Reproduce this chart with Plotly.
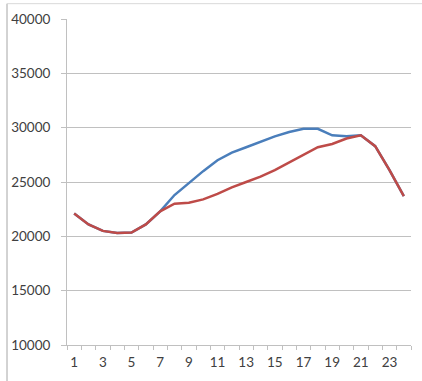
import plotly.graph_objects as go

# Hourly series (1..24)
hours = list(range(1, 25))
series_blue = [22100, 21100, 20500, 20300, 20350, 21100, 22300, 23800, 24900, 26000,
               27000, 27700, 28200, 28700, 29200, 29600, 29900, 29900, 29300, 29200,
               29300, 28300, 26100, 23700]
series_red = [22100, 21100, 20500, 20300, 20350, 21100, 22300, 23000, 23100, 23400,
              23900, 24500, 25000, 25500, 26100, 26800, 27500, 28200, 28500, 29000,
              29300, 28300, 26100, 23700]
x_tick_labels = [str(h) for h in range(1, 25, 2)]

BLUE = "#4a7ebb"
RED = "#be4b48"
GRID = "#c0c0c0"
TEXT = "#404040"
FONT = "Lato"

fig = go.Figure()
fig.add_trace(go.Scatter(x=hours, y=series_blue, mode="lines",
                         line=dict(color=BLUE, width=2.5), showlegend=False))
fig.add_trace(go.Scatter(x=hours, y=series_red, mode="lines",
                         line=dict(color=RED, width=2.5), showlegend=False))

fig.update_layout(
    width=422, height=381,
    margin=dict(l=67, r=11, t=17, b=36),
    paper_bgcolor="white", plot_bgcolor="white",
    font=dict(family=FONT, size=13, color=TEXT),
)

fig.update_xaxes(
    range=[0.5, 24.5],
    tickmode="array",
    tickvals=list(range(1, 25, 2)),
    ticktext=x_tick_labels,
    ticks="",
    showgrid=False,
    showline=True, linecolor=GRID, linewidth=1,
    zeroline=False,
    ticklabelstandoff=5,
    minor=dict(tickmode="linear", tick0=0.5, dtick=1, ticks="outside",
               ticklen=4, tickcolor=GRID, showgrid=False),
    tickfont=dict(family=FONT, size=13.5, color=TEXT),
)

fig.update_yaxes(
    range=[10000, 40000],
    tickmode="linear", tick0=10000, dtick=5000,
    tickformat="d",
    showgrid=True, gridcolor=GRID, gridwidth=1,
    showline=True, linecolor=GRID, linewidth=1,
    ticks="outside", ticklen=5, tickcolor=GRID,
    zeroline=False,
    ticklabelstandoff=8,
    tickfont=dict(family=FONT, size=13.5, color=TEXT),
)

# Outer chart frame (left and top edges)
frame = dict(color="#a6a6a6", width=1)
fig.add_shape(type="line", xref="paper", yref="paper",
              x0=-0.1744, x1=-0.1744, y0=-0.2, y1=1.047, line=frame)
fig.add_shape(type="line", xref="paper", yref="paper",
              x0=-0.1744, x1=1.1, y0=1.047, y1=1.047,
              line=dict(color="#d9d9d9", width=1))

fig.write_html("out.html")
